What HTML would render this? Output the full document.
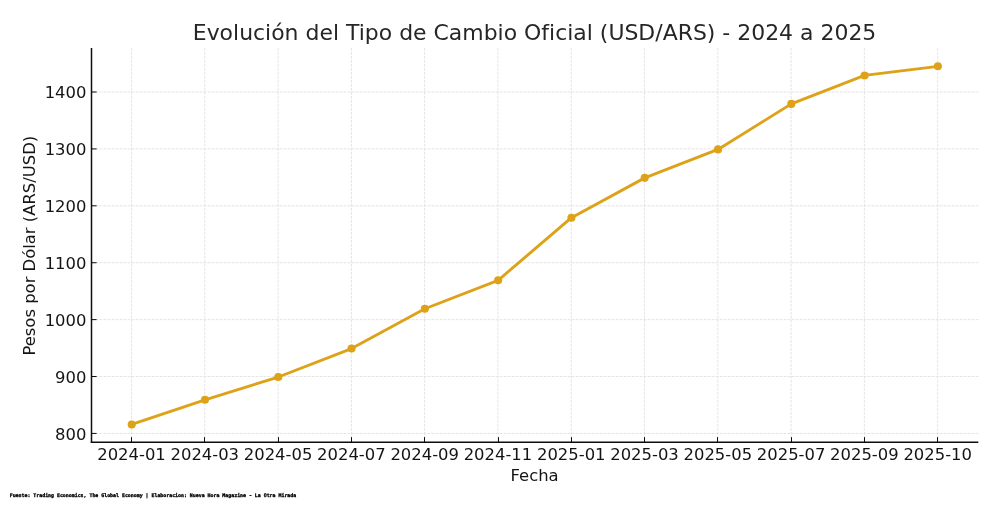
<!DOCTYPE html>
<html lang="es">
<head>
<meta charset="utf-8">
<title>Evolución del Tipo de Cambio Oficial (USD/ARS) - 2024 a 2025</title>
<style>
html,body{margin:0;padding:0;background:#fff;}
body{width:1000px;height:507px;overflow:hidden;}
svg{display:block;}
text{font-family:"DejaVu Sans","Liberation Sans",sans-serif;}
.foot{font-family:"DejaVu Sans Mono","Liberation Mono",monospace;font-weight:bold;}
</style>
</head>
<body>
<svg width="1000" height="507" viewBox="0 0 1000 507">
<rect width="1000" height="507" fill="#ffffff"/>

<g stroke="#dddddd" stroke-width="0.8" stroke-dasharray="2.8 1.2" fill="none">
<line x1="131.50" y1="47.9" x2="131.50" y2="442.25"/>
<line x1="204.79" y1="47.9" x2="204.79" y2="442.25"/>
<line x1="278.08" y1="47.9" x2="278.08" y2="442.25"/>
<line x1="351.37" y1="47.9" x2="351.37" y2="442.25"/>
<line x1="424.66" y1="47.9" x2="424.66" y2="442.25"/>
<line x1="497.95" y1="47.9" x2="497.95" y2="442.25"/>
<line x1="571.24" y1="47.9" x2="571.24" y2="442.25"/>
<line x1="644.53" y1="47.9" x2="644.53" y2="442.25"/>
<line x1="717.82" y1="47.9" x2="717.82" y2="442.25"/>
<line x1="791.11" y1="47.9" x2="791.11" y2="442.25"/>
<line x1="864.40" y1="47.9" x2="864.40" y2="442.25"/>
<line x1="937.69" y1="47.9" x2="937.69" y2="442.25"/>
<line x1="91.5" y1="433.43" x2="978.3" y2="433.43"/>
<line x1="91.5" y1="376.52" x2="978.3" y2="376.52"/>
<line x1="91.5" y1="319.62" x2="978.3" y2="319.62"/>
<line x1="91.5" y1="262.72" x2="978.3" y2="262.72"/>
<line x1="91.5" y1="205.81" x2="978.3" y2="205.81"/>
<line x1="91.5" y1="148.91" x2="978.3" y2="148.91"/>
<line x1="91.5" y1="92.00" x2="978.3" y2="92.00"/>
</g>
<polyline points="131.70,424.48 204.99,399.79 278.28,377.02 351.57,348.57 424.86,308.74 498.15,280.29 571.44,217.69 644.73,177.86 718.02,149.41 791.31,103.88 864.60,75.43 937.89,66.32" fill="none" stroke="#DDA218" stroke-width="2.9" stroke-linejoin="round" stroke-linecap="round"/>
<g fill="#DDA218">
<circle cx="131.70" cy="424.48" r="4.05"/>
<circle cx="204.99" cy="399.79" r="4.05"/>
<circle cx="278.28" cy="377.02" r="4.05"/>
<circle cx="351.57" cy="348.57" r="4.05"/>
<circle cx="424.86" cy="308.74" r="4.05"/>
<circle cx="498.15" cy="280.29" r="4.05"/>
<circle cx="571.44" cy="217.69" r="4.05"/>
<circle cx="644.73" cy="177.86" r="4.05"/>
<circle cx="718.02" cy="149.41" r="4.05"/>
<circle cx="791.31" cy="103.88" r="4.05"/>
<circle cx="864.60" cy="75.43" r="4.05"/>
<circle cx="937.89" cy="66.32" r="4.05"/>
</g>
<g stroke="#0d0d0d" stroke-width="1.5" fill="none">
<line x1="91.5" y1="47.9" x2="91.5" y2="442.95"/>
<line x1="90.8" y1="442.25" x2="978.3" y2="442.25"/>
</g>
<g stroke="#0d0d0d" stroke-width="1.0" fill="none">
<line x1="131.50" y1="442.25" x2="131.50" y2="437.15"/>
<line x1="204.50" y1="442.25" x2="204.50" y2="437.15"/>
<line x1="278.50" y1="442.25" x2="278.50" y2="437.15"/>
<line x1="351.50" y1="442.25" x2="351.50" y2="437.15"/>
<line x1="424.50" y1="442.25" x2="424.50" y2="437.15"/>
<line x1="498.50" y1="442.25" x2="498.50" y2="437.15"/>
<line x1="571.50" y1="442.25" x2="571.50" y2="437.15"/>
<line x1="644.50" y1="442.25" x2="644.50" y2="437.15"/>
<line x1="717.50" y1="442.25" x2="717.50" y2="437.15"/>
<line x1="791.50" y1="442.25" x2="791.50" y2="437.15"/>
<line x1="864.50" y1="442.25" x2="864.50" y2="437.15"/>
<line x1="937.50" y1="442.25" x2="937.50" y2="437.15"/>
<line x1="91.5" y1="433.43" x2="96.6" y2="433.43"/>
<line x1="91.5" y1="376.52" x2="96.6" y2="376.52"/>
<line x1="91.5" y1="319.62" x2="96.6" y2="319.62"/>
<line x1="91.5" y1="262.72" x2="96.6" y2="262.72"/>
<line x1="91.5" y1="205.81" x2="96.6" y2="205.81"/>
<line x1="91.5" y1="148.91" x2="96.6" y2="148.91"/>
<line x1="91.5" y1="92.00" x2="96.6" y2="92.00"/>
</g>
<g fill="#141414" font-size="16.42px" text-anchor="middle">
<text x="131.50" y="459.7">2024-01</text>
<text x="204.79" y="459.7">2024-03</text>
<text x="278.08" y="459.7">2024-05</text>
<text x="351.37" y="459.7">2024-07</text>
<text x="424.66" y="459.7">2024-09</text>
<text x="497.95" y="459.7">2024-11</text>
<text x="571.24" y="459.7">2025-01</text>
<text x="644.53" y="459.7">2025-03</text>
<text x="717.82" y="459.7">2025-05</text>
<text x="791.11" y="459.7">2025-07</text>
<text x="864.40" y="459.7">2025-09</text>
<text x="937.69" y="459.7">2025-10</text>
</g>
<g fill="#141414" font-size="16.42px" text-anchor="end">
<text x="86.4" y="439.53">800</text>
<text x="86.4" y="382.62">900</text>
<text x="86.4" y="325.72">1000</text>
<text x="86.4" y="268.82">1100</text>
<text x="86.4" y="211.91">1200</text>
<text x="86.4" y="155.01">1300</text>
<text x="86.4" y="98.10">1400</text>
</g>
<text x="534.60" y="480.9" fill="#141414" font-size="16.42px" text-anchor="middle">Fecha</text>
<text transform="translate(34.8,245.67) rotate(-90)" fill="#141414" font-size="16.42px" text-anchor="middle">Pesos por Dólar (ARS/USD)</text>
<text x="534.55" y="39.7" fill="#262626" font-size="21.945px" text-anchor="middle">Evolución del Tipo de Cambio Oficial (USD/ARS) - 2024 a 2025</text>
<text class="foot" x="9.7" y="497.2" fill="#000" stroke="#000" stroke-width="0.3" font-size="4.93px">Fuente: Trading Economics, The Global Economy | Elaboracion: Nueva Hora Magazine - La Otra Mirada</text>
</svg>
</body>
</html>
